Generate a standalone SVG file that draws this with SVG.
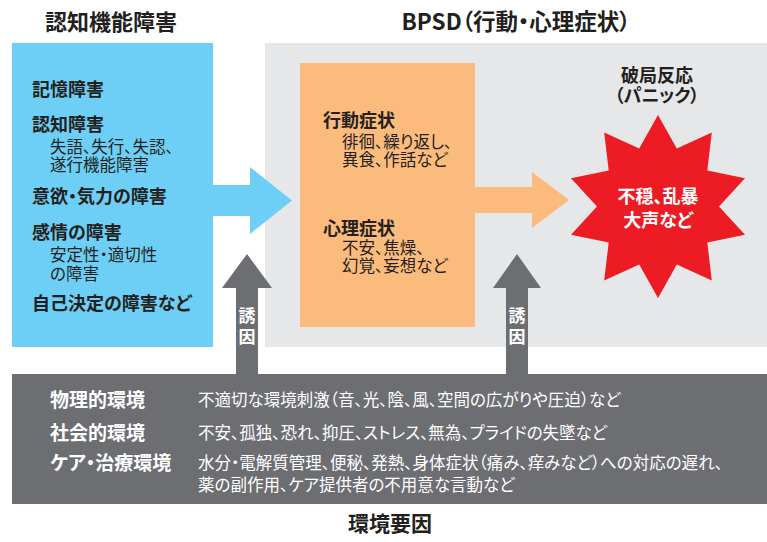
<svg xmlns="http://www.w3.org/2000/svg" width="767" height="542" viewBox="0 0 767 542">
<style>
text{font-family:"Noto Sans CJK JP","Noto Sans CJK SC",sans-serif;font-feature-settings:"palt";fill:#231f20}
.t{font-size:22px;font-weight:700;text-anchor:middle}
.h{font-size:18px;font-weight:700}
.s{font-size:16.5px;font-weight:400}
.l{font-size:19px;font-weight:700}
.w{fill:#ffffff}
.c{text-anchor:middle}
.v{font-size:17px;font-weight:700;fill:#ffffff;text-anchor:middle}
.arr{fill:#6d6e71}
</style>
<rect width="767" height="542" fill="#ffffff"/>
<g id="title-cognitive"><text class="t" x="111" y="30">認知機能障害</text></g>
<g id="title-bpsd"><text class="t" x="516" y="30" style="font-size:22.5px">BPSD（行動・心理症状）</text></g>

<g id="bpsd-panel"><rect x="265" y="43" width="502" height="304" fill="#e6e7e8"/></g>

<g id="cognitive">
<rect x="12" y="43" width="201" height="304" fill="#6dcff6"/>
<text class="h" x="32" y="96">記憶障害</text>
<text class="h" x="32" y="131">認知障害</text>
<text class="s" x="50" y="153">失語、失行、失認、</text>
<text class="s" x="50" y="171">遂行機能障害</text>
<text class="h" x="32" y="203">意欲・気力の障害</text>
<text class="h" x="32" y="239">感情の障害</text>
<text class="s" x="50" y="261">安定性・適切性</text>
<text class="s" x="50" y="280">の障害</text>
<text class="h" x="32" y="310">自己決定の障害など</text>
</g>

<g id="symptoms">
<rect x="300" y="63" width="175" height="264" fill="#fbbb7c"/>
<text class="h" x="323" y="127">行動症状</text>
<text class="s" x="342" y="148">徘徊、繰り返し、</text>
<text class="s" x="342" y="166">異食、作話など</text>
<text class="h" x="323" y="235">心理症状</text>
<text class="s" x="342" y="254">不安、焦燥、</text>
<text class="s" x="342" y="272">幻覚、妄想など</text>
</g>

<g id="panic">
<text class="h c" x="657" y="82">破局反応</text>
<text class="h c" x="657" y="102">（パニック）</text>
<polygon fill="#ed1c24" points="658,115 676.8,148.5 711.8,132.5 707.3,170.6 745,178.2 719,206.5 745,234.8 707.3,242.4 711.8,280.5 676.8,264.5 658,298 639.2,264.5 604.2,280.5 608.7,242.4 571,234.8 597,206.5 571,178.2 608.7,170.6 604.2,132.5 639.2,148.5"/>
<text class="h c w" x="658" y="203">不穏、乱暴</text>
<text class="h c w" x="658" y="227">大声など</text>
</g>

<g id="environment">
<rect x="12" y="374" width="755" height="130" fill="#6d6e71"/>
<text class="l w" x="50" y="407">物理的環境</text>
<text class="s w" x="198" y="406">不適切な環境刺激（音、光、陰、風、空間の広がりや圧迫）など</text>
<text class="l w" x="50" y="440">社会的環境</text>
<text class="s w" x="198" y="439">不安、孤独、恐れ、抑圧、ストレス、無為、プライドの失墜など</text>
<text class="l w" x="50" y="470">ケア・治療環境</text>
<text class="s w" x="198" y="469">水分・電解質管理、便秘、発熱、身体症状（痛み、痒みなど）への対応の遅れ、</text>
<text class="s w" x="198" y="491">薬の副作用、ケア提供者の不用意な言動など</text>
</g>
<g id="title-environment"><text class="h c" x="390" y="531" style="font-size:21px">環境要因</text></g>

<g id="connectors">
<polygon fill="#6dcff6" points="213,185 250,185 250,167 292,200.5 250,234 250,216 213,216"/>
<polygon fill="#fbbb7c" points="475,187 532,187 532,172 569,200 532,228 532,213 475,213"/>
<polygon class="arr" points="236,374 236,288 222,288 247,254 272,288 258,288 258,374"/>
<polygon class="arr" points="506,374 506,288 493,288 517,254 541,288 528,288 528,374"/>
<text class="v" x="247" y="322">誘</text>
<text class="v" x="247" y="343">因</text>
<text class="v" x="517" y="322">誘</text>
<text class="v" x="517" y="343">因</text>
</g>
</svg>
